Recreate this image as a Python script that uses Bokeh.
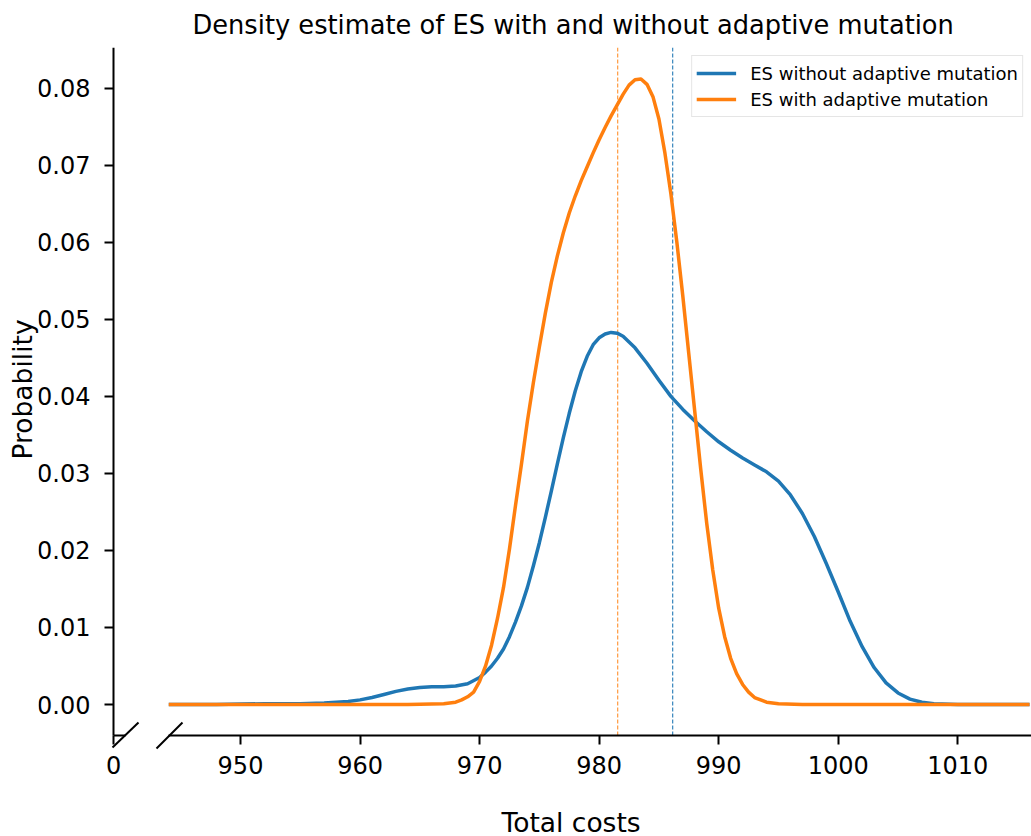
from bokeh.plotting import figure
from bokeh.models import (Legend, LegendItem, FixedTicker, Range1d, LinearAxis,
                          NumeralTickFormatter, Title)
from bokeh.embed import file_html
from bokeh.resources import INLINE

# ---------------- data ----------------
cost_no_adapt = [944, 948, 952, 955, 957, 958, 959, 960, 961, 962, 963, 964, 965,
                 966, 967, 968, 969, 970, 970.5, 971, 971.5, 972, 972.5, 973,
                 973.5, 974, 974.5, 975, 975.5, 976, 976.5, 977, 977.5, 978,
                 978.5, 979, 979.5, 980, 980.5, 981, 981.5, 982, 983, 984, 985,
                 986, 987, 988, 989, 990, 991, 992, 993, 994, 995, 996, 997, 998,
                 999, 1000, 1001, 1002, 1003, 1004, 1005, 1006, 1007, 1008, 1010,
                 1016]
dens_no_adapt = [0.0, 0.0, 0.0001, 0.0001, 0.0002, 0.0003, 0.0004, 0.0006, 0.0009,
                 0.0013, 0.0017, 0.0020, 0.0022, 0.0023, 0.0023, 0.0024, 0.0027,
                 0.0035, 0.0042, 0.0050, 0.0060, 0.0072, 0.0088, 0.0107, 0.0128,
                 0.0152, 0.0180, 0.0210, 0.0243, 0.0277, 0.0312, 0.0346, 0.0378,
                 0.0407, 0.0432, 0.0452, 0.0467, 0.0476, 0.0481, 0.0483, 0.0482,
                 0.0478, 0.0463, 0.0443, 0.0421, 0.0400, 0.0383, 0.0368, 0.0354,
                 0.0341, 0.0330, 0.0320, 0.0311, 0.0302, 0.0290, 0.0272, 0.0248,
                 0.0218, 0.0183, 0.0146, 0.0108, 0.0075, 0.0048, 0.0028, 0.0015,
                 0.0007, 0.0003, 0.0001, 0.0, 0.0]

cost_adapt = [944, 950, 955, 960, 964, 966, 967, 968, 968.5, 969, 969.5, 970,
              970.5, 971, 971.5, 972, 972.5, 973, 973.5, 974, 974.5, 975, 975.5,
              976, 976.5, 977, 977.5, 978, 978.5, 979, 979.5, 980, 980.5, 981,
              981.5, 982, 982.5, 983, 983.5, 984, 984.5, 985, 985.5, 986, 986.5,
              987, 987.5, 988, 988.5, 989, 989.5, 990, 990.5, 991, 991.5, 992,
              992.5, 993, 994, 995, 997, 1000, 1010, 1016]
dens_adapt = [0.0, 0.0, 0.0, 0.0, 0.0, 0.00005, 0.0001, 0.0003, 0.0006, 0.0010,
              0.0016, 0.0030, 0.0050, 0.0077, 0.0112, 0.0152, 0.0202, 0.0258,
              0.0312, 0.0368, 0.0418, 0.0464, 0.0508, 0.0548, 0.0582, 0.0612,
              0.0638, 0.0660, 0.0680, 0.0698, 0.0716, 0.0733, 0.0749, 0.0764,
              0.0778, 0.0792, 0.0804, 0.0811, 0.0812, 0.0805, 0.0789, 0.0760,
              0.0716, 0.0663, 0.0600, 0.0530, 0.0455, 0.0380, 0.0305, 0.0235,
              0.0175, 0.0125, 0.0088, 0.0060, 0.0040, 0.0026, 0.0016, 0.0009,
              0.0003, 0.0001, 0.0, 0.0, 0.0, 0.0]

mean_no_adapt = 986.15
mean_adapt = 981.55

series_labels = ["ES without adaptive mutation", "ES with adaptive mutation"]
x_ticks = [950, 960, 970, 980, 990, 1000, 1010]
y_ticks = [0.0, 0.01, 0.02, 0.03, 0.04, 0.05, 0.06, 0.07, 0.08]
broken_axis_label = "0"

title_text = "Density estimate of ES with and without adaptive mutation"
x_label = "Total costs"
y_label = "Probability"

# ---------------- layout (pixel geometry of the reference) ----------------
BLUE = "#1f77b4"
ORANGE = "#ff7f0e"
FONT = "DejaVu Sans"

FRAME_L, FRAME_R, FRAME_T, FRAME_B = 38, 1031, 47, 804
PX_PER_X = 11.955          # pixels per cost unit
PX_X950 = 240              # pixel column of cost 950
PX_PER_Y = 7704.0          # pixels per density unit
PX_Y0 = 704                # pixel row of density 0

def sx(px):
    return 950 + (px - PX_X950) / PX_PER_X

def sy(py):
    return (PX_Y0 - py) / PX_PER_Y

AX_LEFT, AX_BOTTOM, AX_TOP = 113, 735, 47

p = figure(frame_width=FRAME_R - FRAME_L, frame_height=FRAME_B - FRAME_T,
           x_range=Range1d(sx(FRAME_L), sx(FRAME_R)),
           y_range=Range1d(sy(FRAME_B), sy(FRAME_T)),
           x_axis_location=None, y_axis_location=None,
           output_backend="svg", toolbar_location=None,
           min_border_left=FRAME_L, min_border_right=0, min_border_top=FRAME_T,
           min_border_bottom=836 - FRAME_B, outline_line_color=None,
           background_fill_color="white", border_fill_color="white")
p.grid.visible = False

p.title.text = title_text
p.title.align = "left"
p.title.offset = 192 - FRAME_L
p.title.text_font = FONT
p.title.text_font_size = "25.7px"
p.title.text_font_style = "normal"
p.title.text_color = "black"
p.title.standoff = 15

def style_axis(ax):
    ax.major_label_text_font = FONT
    ax.major_label_text_font_size = "24px"
    ax.major_label_text_color = "black"
    ax.major_tick_out = 9
    ax.major_tick_in = 0
    ax.major_tick_line_width = 2
    ax.major_tick_line_color = "black"
    ax.minor_tick_line_color = None
    ax.axis_line_width = 2
    ax.axis_line_color = "black"

# y axis (left spine of the broken plot)
yaxis = LinearAxis(ticker=FixedTicker(ticks=y_ticks),
                   formatter=NumeralTickFormatter(format="0.00"),
                   fixed_location=sx(AX_LEFT), bounds=(sy(AX_BOTTOM), sy(AX_TOP)))
style_axis(yaxis)
yaxis.major_label_standoff = 14
p.add_layout(yaxis, "left")

# small left x-axis piece showing the "0"
zero_tick = sx(AX_LEFT) + 0.001
xaxis_small = LinearAxis(ticker=FixedTicker(ticks=[zero_tick]),
                         major_label_overrides={zero_tick: broken_axis_label},
                         fixed_location=sy(AX_BOTTOM),
                         bounds=(sx(AX_LEFT), sx(125)))
style_axis(xaxis_small)
xaxis_small.major_label_standoff = 11
p.add_layout(xaxis_small, "below")

# main x axis
xaxis = LinearAxis(ticker=FixedTicker(ticks=x_ticks), fixed_location=sy(AX_BOTTOM),
                   bounds=(cost_no_adapt[0], sx(FRAME_R)))
style_axis(xaxis)
xaxis.major_label_standoff = 11
p.add_layout(xaxis, "below")

# axis titles
p.add_layout(Title(text=x_label, align="left", offset=501 - FRAME_L,
                   text_font=FONT, text_font_size="26.5px",
                   text_font_style="normal", text_color="black", standoff=0),
             "below")
p.add_layout(Title(text=y_label, align="left", offset=FRAME_B - 459,
                   text_font=FONT, text_font_size="26.5px",
                   text_font_style="normal", text_color="black", standoff=2),
             "left")

# break marks on the x axis
p.segment(x0=[sx(112), sx(156)], y0=[sy(747), sy(748)],
          x1=[sx(138), sx(182)], y1=[sy(722), sy(722)],
          line_color="black", line_width=2)

# mean lines
p.segment(x0=[mean_no_adapt], y0=[sy(AX_BOTTOM)], x1=[mean_no_adapt],
          y1=[sy(AX_TOP)], line_color=BLUE, line_width=1.2, line_dash="4 2",
          line_alpha=0.9)
p.segment(x0=[mean_adapt], y0=[sy(AX_BOTTOM)], x1=[mean_adapt],
          y1=[sy(AX_TOP)], line_color=ORANGE, line_width=1.2, line_dash="4 2",
          line_alpha=0.8)

r1 = p.line(cost_no_adapt, dens_no_adapt, line_color=BLUE, line_width=3.5,
            line_join="round")
r2 = p.line(cost_adapt, dens_adapt, line_color=ORANGE, line_width=3.5,
            line_join="round")

legend = Legend(items=[LegendItem(label=series_labels[0], renderers=[r1]),
                       LegendItem(label=series_labels[1], renderers=[r2])],
                location="top_right", margin=8, padding=4, spacing=0,
                label_text_font=FONT, label_text_font_size="18px",
                label_text_color="black",
                label_standoff=14, glyph_width=40, glyph_height=26,
                label_height=26, border_line_color="#cccccc", border_line_width=1,
                background_fill_color="white", background_fill_alpha=0.8)
p.add_layout(legend)

open("out.html", "w").write(file_html(p, INLINE))
